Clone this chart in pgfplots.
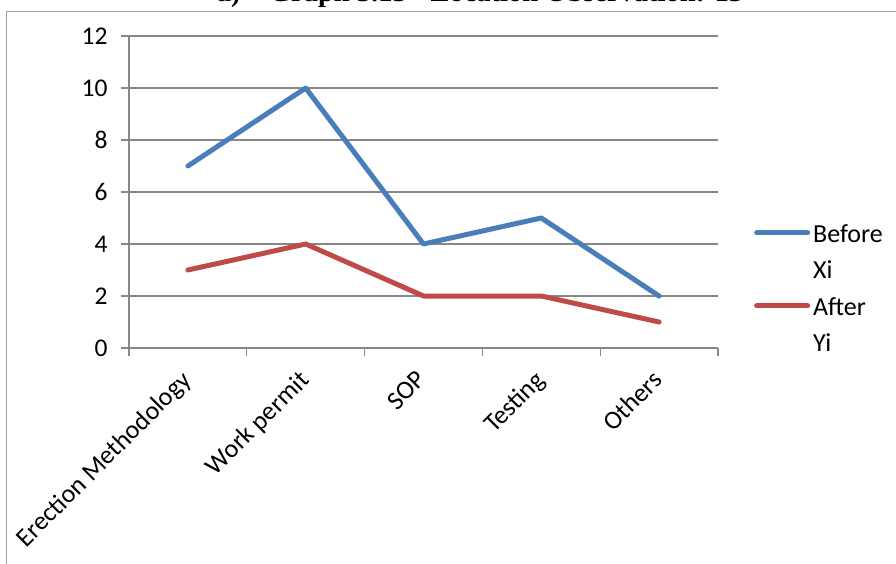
\documentclass[border=0pt]{standalone}
\usepackage{pgfplots}
\pgfplotsset{compat=1.18}
\usepackage{fontspec}
\setmainfont{Carlito}
\newfontfamily\titlefont{Liberation Serif}
\definecolor{beforeblue}{HTML}{4A7EBB}
\definecolor{afterred}{HTML}{BE4B48}
\definecolor{axisgray}{HTML}{878787}
\definecolor{framegray}{HTML}{A0A0A0}

\begin{document}
\begin{tikzpicture}
\useasboundingbox (0pt,0pt) rectangle (896pt,563pt);
% chart frame
\draw[framegray, line width=1pt] (6pt,-20pt) -- (6pt,551pt) -- (920pt,551pt);
% heading
\node[anchor=base, font=\titlefont\bfseries\fontsize{28.5}{32}\selectfont] at (480pt,561pt)
  {a)\quad Graph 3.13 - Location Observation: 13};
\begin{axis}[
  at={(129pt,215pt)}, anchor=south west,
  scale only axis, width=589pt, height=312pt,
  xmin=-0.5, xmax=4.5, ymin=0, ymax=12,
  ytick={0,2,...,12},
  xtick={0,...,4},
  xticklabels={Erection Methodology, Work permit, SOP, Testing, Others},
  minor xtick={-0.5,0.5,...,4.5},
  major x tick style={draw=none},
  axis x line*=bottom, axis y line*=left,
  axis line style={axisgray, line width=1.3pt, -},
  tick style={axisgray, line width=1.3pt},
  tick align=outside,
  major tick length=8pt, minor tick length=8pt,
  ymajorgrids, grid style={axisgray, line width=1.3pt},
  x tick label style={xshift=-8pt, yshift=-8pt, rotate=45, anchor=north east,
    font=\fontsize{26}{30}\selectfont},
  y tick label style={xshift=-10pt, font=\fontsize{25.5}{30}\selectfont},
  /pgf/number format/assume math mode=true,
  legend style={at={(1.061,0.397)}, anchor=north west, draw=none, fill=none,
    inner sep=0pt, row sep=17pt,
    font=\fontsize{26}{30}\selectfont,
    nodes={inner sep=0pt, anchor=base west}},
  legend cell align=left,
  legend image code/.code={\draw[#1, line width=5pt] (0pt,0.34em+6pt) -- (51pt,0.34em+6pt);},
  every axis plot/.append style={line width=5pt, line join=round, line cap=round},
]
\addplot[beforeblue] coordinates {(0,7) (1,10) (2,4) (3,5) (4,2)};
\addlegendentry{\hspace{3pt}\rule{0pt}{18pt}Before}
\addlegendimage{empty legend}
\addlegendentry{\hspace{3pt}\rule[-7pt]{0pt}{25pt}Xi}
\addplot[afterred] coordinates {(0,3) (1,4) (2,2) (3,2) (4,1)};
\addlegendentry{\hspace{3pt}\rule{0pt}{18pt}After}
\addlegendimage{empty legend}
\addlegendentry{\hspace{3pt}\rule{0pt}{18pt}Yi}
\end{axis}
\end{tikzpicture}
\end{document}
